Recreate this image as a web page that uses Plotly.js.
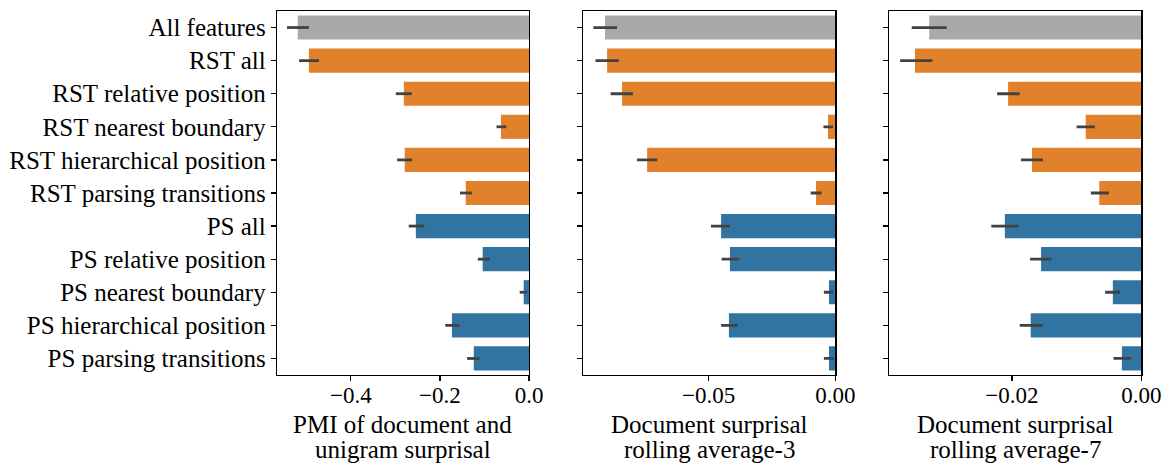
<!DOCTYPE html>
<html>
<head>
<meta charset="utf-8">
<script src="https://cdn.plot.ly/plotly-3.0.1.min.js"></script>
<style>html,body{margin:0;padding:0;background:#fff;}#chart{width:1172px;height:466px;}</style>
</head>
<body>
<div id="chart"></div>
<script>
const categories = ["All features","RST all","RST relative position","RST nearest boundary","RST hierarchical position","RST parsing transitions","PS all","PS relative position","PS nearest boundary","PS hierarchical position","PS parsing transitions"];
const groups = ["all","rst","rst","rst","rst","rst","ps","ps","ps","ps","ps"];

// Panel 1: PMI of document and unigram surprisal
const pmiMean = [-0.519,-0.494,-0.281,-0.063,-0.279,-0.142,-0.254,-0.104,-0.012,-0.173,-0.124];
const pmiLo   = [-0.543,-0.516,-0.299,-0.073,-0.296,-0.155,-0.270,-0.115,-0.021,-0.188,-0.139];
const pmiHi   = [-0.494,-0.471,-0.263,-0.051,-0.262,-0.128,-0.235,-0.088,-0.004,-0.156,-0.111];

// Panel 2: Document surprisal rolling average-3
const ra3Mean = [-0.0909,-0.0901,-0.0842,-0.0029,-0.0743,-0.0076,-0.0451,-0.0416,-0.0025,-0.0420,-0.0025];
const ra3Lo   = [-0.0955,-0.0947,-0.0887,-0.0047,-0.0783,-0.0097,-0.0491,-0.0449,-0.0045,-0.0451,-0.0045];
const ra3Hi   = [-0.0862,-0.0855,-0.0799,-0.0009,-0.0703,-0.0054,-0.0416,-0.0379,-0.0008,-0.0385,-0.0005];

// Panel 3: Document surprisal rolling average-7
const ra7Mean = [-0.0328,-0.0350,-0.0206,-0.0086,-0.0169,-0.0065,-0.0211,-0.0155,-0.0044,-0.0171,-0.0030];
const ra7Lo   = [-0.0355,-0.0373,-0.0223,-0.0100,-0.0186,-0.0078,-0.0232,-0.0172,-0.0056,-0.0188,-0.0043];
const ra7Hi   = [-0.0301,-0.0323,-0.0188,-0.0072,-0.0152,-0.0050,-0.0190,-0.0139,-0.0033,-0.0152,-0.0016];

const xTitleLines = [["PMI of document and","unigram surprisal"],["Document surprisal","rolling average-3"],["Document surprisal","rolling average-7"]];

const groupColors = {all:"#a9a9a9", rst:"#e1812c", ps:"#3274a1"};
const colors = groups.map(g => groupColors[g]);

function mk(mean, lo, hi, xa, ya){
  return {
    type:"bar", orientation:"h", y:categories, x:mean, xaxis:xa, yaxis:ya,
    marker:{color:colors, line:{width:0}},
    error_x:{type:"data", symmetric:false,
      array: mean.map((m,i)=>hi[i]-m),
      arrayminus: mean.map((m,i)=>m-lo[i]),
      color:"#424242", thickness:2.8, width:0},
    hoverinfo:"x+y", showlegend:false
  };
}

const data = [
  mk(pmiMean,pmiLo,pmiHi,"x","y"),
  mk(ra3Mean,ra3Lo,ra3Hi,"x2","y2"),
  mk(ra7Mean,ra7Lo,ra7Hi,"x3","y3")
];

const fam = "Liberation Serif, Times New Roman, serif";
const labelFont = {family:fam, size:25, color:"#000"};
const tickFont = {family:fam, size:23, color:"#000"};
function xax(dom, range, dtick, fmt, anchor){
  return {domain:dom, range:range, anchor:anchor, dtick:dtick, tick0:0, tickformat:fmt,
    showline:true, mirror:true, linecolor:"#000", linewidth:1.25,
    ticks:"outside", ticklen:5, tickwidth:1.25, tickcolor:"#000",
    ticklabelstandoff:-6,
    showgrid:false, zeroline:false, tickfont:tickFont};
}
function yax(dom, labels, anchor){
  return {domain:dom, anchor:anchor, type:"category", categoryarray:categories,
    range:[10.5,-0.5], showline:true, mirror:true, linecolor:"#000", linewidth:1.25,
    ticks:"outside", ticklen:5, tickwidth:1.25, tickcolor:"#000",
    showgrid:false, zeroline:false, showticklabels:labels, tickfont:labelFont};
}
const xd = [[0.2363,0.4514],[0.4977,0.7127],[0.7588,0.9738]];
const yd = [0.1953, 0.9764];
const annotations = [];
xTitleLines.forEach((lines,k)=>{
  const cx = (xd[k][0]+xd[k][1])/2;
  annotations.push({text:lines[0], xref:"paper", yref:"paper", x:cx, y:0.0880, xanchor:"center", yanchor:"middle", showarrow:false, font:labelFont});
  annotations.push({text:lines[1], xref:"paper", yref:"paper", x:cx, y:0.0345, xanchor:"center", yanchor:"middle", showarrow:false, font:labelFont});
});
const layout = {
  width:1172, height:466, margin:{l:0,r:0,t:0,b:0},
  paper_bgcolor:"#fff", plot_bgcolor:"#fff", font:labelFont,
  bargap:0.27, showlegend:false,
  xaxis: xax(xd[0],[-0.5657,0],0.2,".1f","y"),
  xaxis2: xax(xd[1],[-0.0995,0],0.05,".2f","y2"),
  xaxis3: xax(xd[2],[-0.03897,0],0.02,".2f","y3"),
  yaxis: yax(yd,true,"x"),
  yaxis2: yax(yd,false,"x2"),
  yaxis3: yax(yd,false,"x3"),
  annotations: annotations
};
Plotly.newPlot("chart", data, layout, {displayModeBar:false, staticPlot:true});
</script>
</body>
</html>
